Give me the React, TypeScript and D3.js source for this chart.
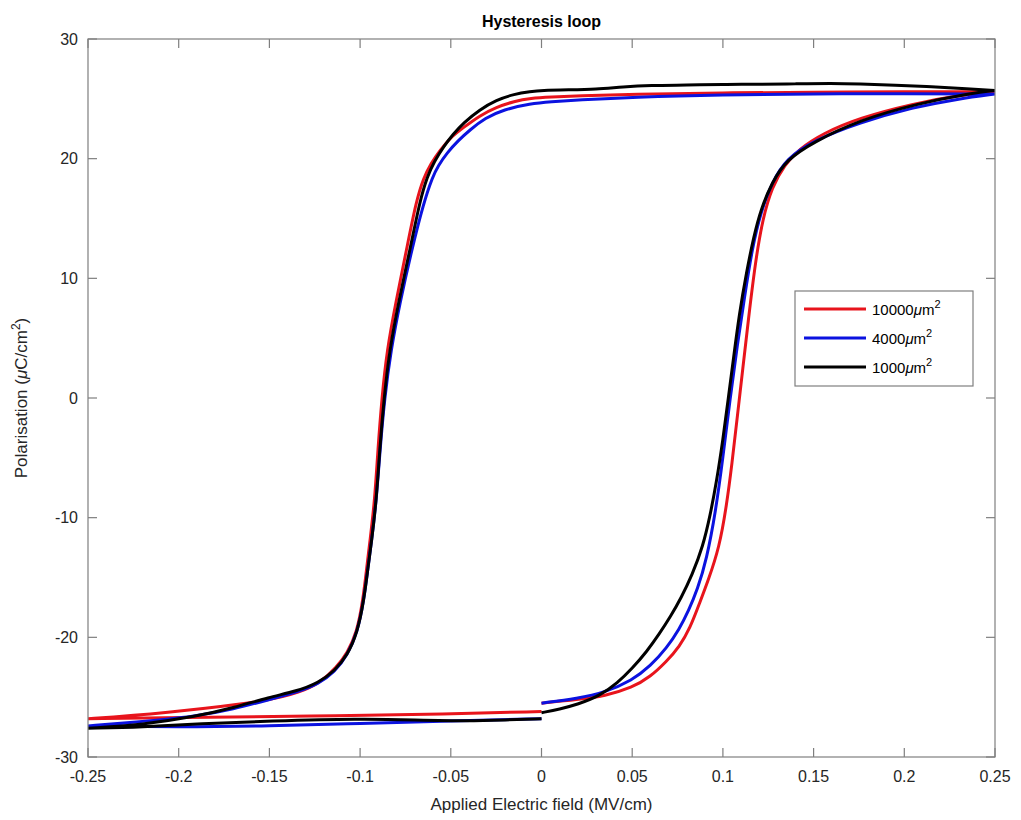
import * as d3 from "d3";

// Applied field (MV/cm) and polarisation (uC/cm^2) for each loop.
// Each loop starts at E=0 on the bottom, goes up the right branch, back along the top,
// down the left branch and along the bottom back to E=0.
const RED_E = [
  0.0, 0.02, 0.035, 0.05, 0.06, 0.069, 0.076, 0.082, 0.087, 0.092, 0.098, 0.102, 0.105, 0.108, 0.111,
  0.114, 0.118, 0.122, 0.127, 0.134, 0.142, 0.155, 0.175, 0.205, 0.23, 0.25,
  0.2, 0.15, 0.1, 0.05, 0.02, 0.005, -0.006, -0.015, -0.025, -0.034, -0.043, -0.05, -0.056, -0.061,
  -0.065, -0.069, -0.0744, -0.0803, -0.0852, -0.088, -0.0902, -0.0919, -0.0946, -0.0963, -0.0985,
  -0.1018, -0.107, -0.113, -0.122, -0.133, -0.151, -0.183, -0.229, -0.25,
  -0.2, -0.128, -0.05, 0.0,
];
const RED_P = [
  -25.5, -25.2, -24.9, -24.2, -23.3, -22.0, -20.8, -19.2, -17.2, -15.2, -12.5, -9.0, -5.5, -1.5, 2.5,
  6.5, 11.5, 15.0, 17.6, 19.5, 20.8, 22.1, 23.4, 24.6, 25.3, 25.6,
  25.6, 25.55, 25.5, 25.4, 25.25, 25.15, 25.05, 24.8, 24.3, 23.6, 22.6, 21.8, 20.7, 19.6,
  18.4, 16.5, 12.4, 8.0, 4.0, 0.0, -4.3, -8.5, -12.0, -14.1, -17.0,
  -19.6, -21.3, -22.5, -23.8, -24.6, -25.3, -25.9, -26.6, -26.8,
  -26.7, -26.6, -26.4, -26.2,
];

const BLUE_E = [
  0.0, 0.02, 0.035, 0.05, 0.06, 0.069, 0.076, 0.081, 0.086, 0.091, 0.096, 0.1, 0.104, 0.108, 0.112,
  0.116, 0.121, 0.127, 0.135, 0.15, 0.175, 0.205, 0.23, 0.25,
  0.2, 0.15, 0.1, 0.05, 0.02, 0.005, -0.006, -0.021, -0.031, -0.0395, -0.046, -0.052, -0.057, -0.06,
  -0.065, -0.0715, -0.078, -0.083, -0.0865, -0.089, -0.091, -0.0937, -0.0956, -0.098, -0.1015,
  -0.107, -0.114, -0.123, -0.135, -0.15, -0.17, -0.19, -0.225, -0.25,
  -0.2, -0.15, -0.1, -0.05, 0.0,
];
const BLUE_P = [
  -25.5, -25.1, -24.6, -23.6, -22.4, -20.9, -19.3, -17.8, -16.0, -13.5, -9.5, -5.0, 0.0, 4.5, 8.5,
  12.4, 15.6, 18.0, 20.0, 21.5, 23.0, 24.3, 25.0, 25.4,
  25.45, 25.4, 25.35, 25.15, 24.9, 24.75, 24.6, 24.1, 23.4, 22.4, 21.5, 20.5, 19.4, 18.5,
  16.3, 12.4, 8.0, 4.0, 0.0, -4.3, -8.5, -12.0, -14.1, -17.0, -19.6,
  -21.5, -22.9, -23.9, -24.6, -25.2, -26.0, -26.6, -27.1, -27.4,
  -27.5, -27.4, -27.2, -27.0, -26.8,
];

const BLACK_E = [
  0.0, 0.01, 0.02, 0.032, 0.042, 0.05, 0.058, 0.065, 0.071, 0.077, 0.083, 0.089, 0.093, 0.0965, 0.1,
  0.103, 0.106, 0.109, 0.113, 0.117, 0.121, 0.127, 0.135, 0.15, 0.175, 0.207, 0.238, 0.25,
  0.235, 0.215, 0.195, 0.175, 0.16, 0.14, 0.12, 0.1, 0.08, 0.06, 0.045, 0.03, 0.015, 0.0,
  -0.006, -0.015, -0.025, -0.034, -0.043, -0.049, -0.054, -0.059, -0.063, -0.067, -0.0725, -0.0788,
  -0.0838, -0.0868, -0.0892, -0.091, -0.0937, -0.0956, -0.098, -0.1015, -0.107, -0.114, -0.123,
  -0.135, -0.15, -0.17, -0.19, -0.22, -0.25,
  -0.22, -0.188, -0.15, -0.1, -0.07, -0.04, -0.02, 0.0,
];
const BLACK_P = [
  -26.3, -26.0, -25.6, -24.9, -23.8, -22.6, -21.2, -19.7, -18.3, -16.7, -14.8, -12.4, -9.8, -7.0, -3.5,
  0.0, 3.5, 7.0, 10.5, 13.5, 15.8, 18.0, 19.9, 21.4, 23.2, 24.6, 25.5, 25.7,
  25.85, 26.0, 26.15, 26.25, 26.3, 26.25, 26.2, 26.22, 26.15, 26.12, 26.0, 25.8, 25.75, 25.7,
  25.6, 25.4, 24.9, 24.1, 23.0, 22.0, 21.0, 19.8, 18.5, 16.5, 12.4, 8.0,
  4.0, 0.0, -4.3, -8.5, -12.0, -14.1, -17.0, -19.6, -21.5, -22.8, -23.8,
  -24.5, -25.0, -25.9, -26.6, -27.3, -27.6,
  -27.5, -27.2, -27.0, -26.8, -26.9, -27.0, -26.9, -26.8,
];

const SERIES_AREA = ["10000", "4000", "1000"];
const SERIES_COLOR = ["#e8141c", "#0b12e0", "#000000"];
const SERIES_E = [RED_E, BLUE_E, BLACK_E];
const SERIES_P = [RED_P, BLUE_P, BLACK_P];

const X_TICKS = [-0.25, -0.2, -0.15, -0.1, -0.05, 0, 0.05, 0.1, 0.15, 0.2, 0.25];
const Y_TICKS = [-30, -20, -10, 0, 10, 20, 30];

const W = 1021;
const H = 820;
const margin = { top: 39, right: 26, bottom: 63, left: 88 };
const FONT = "'Liberation Sans', Arial, Helvetica, sans-serif";
const AXIS = "#7f7f7f";
const TEXT = "#262626";

export default function App() {
  const innerW = W - margin.left - margin.right;
  const innerH = H - margin.top - margin.bottom;

  const x = d3.scaleLinear().domain([-0.25, 0.25]).range([0, innerW]);
  const y = d3.scaleLinear().domain([-30, 30]).range([innerH, 0]);

  // b-spline keeps the loops smooth; split at the field tips so the curve reaches +-0.25
  const line = d3
    .line<[number, number]>()
    .x((d) => x(d[0]))
    .y((d) => y(d[1]))
    .curve(d3.curveBasis);

  const loopPath = (es: number[], ps: number[]) => {
    const pts = es.map((e, j) => [e, ps[j]] as [number, number]);
    const iMax = d3.maxIndex(es);
    const iMin = d3.minIndex(es);
    const parts = [pts.slice(0, iMax + 1), pts.slice(iMax, iMin + 1), pts.slice(iMin)];
    return parts.map((p) => line(p) || "").join("");
  };

  const tickLen = 9;

  // legend layout
  const lg = { x: 707, y: 252, w: 178, h: 95, row: 29 };

  return (
    <div style={{ position: "absolute", left: 0, top: 0 }}>
      <svg width={W} height={H} style={{ display: "block", background: "#fff" }} fontFamily={FONT}>
        <text x={margin.left + innerW / 2} y={27} textAnchor="middle" fontSize={16} fontWeight="bold" fill="#000">
          Hysteresis loop
        </text>
        <g transform={`translate(${margin.left},${margin.top})`}>
          <defs>
            <clipPath id="plot-clip">
              <rect x={0} y={0} width={innerW} height={innerH} />
            </clipPath>
          </defs>

          {/* curves */}
          <g clipPath="url(#plot-clip)">
            {SERIES_E.map((es, i) => (
              <path
                key={SERIES_AREA[i]}
                d={loopPath(es, SERIES_P[i])}
                fill="none"
                stroke={SERIES_COLOR[i]}
                strokeWidth={3}
                strokeLinejoin="round"
                strokeLinecap="butt"
              />
            ))}
          </g>

          {/* box */}
          <rect x={0} y={0} width={innerW} height={innerH} fill="none" stroke={AXIS} strokeWidth={1.2} />

          {/* x ticks, bottom and top */}
          {X_TICKS.map((t) => (
            <g key={"x" + t}>
              <line x1={x(t)} x2={x(t)} y1={innerH} y2={innerH - tickLen} stroke={AXIS} strokeWidth={1.2} />
              <line x1={x(t)} x2={x(t)} y1={0} y2={tickLen} stroke={AXIS} strokeWidth={1.2} />
              <text x={x(t)} y={innerH + 25} textAnchor="middle" fontSize={16} fill={TEXT}>
                {String(+t.toFixed(2))}
              </text>
            </g>
          ))}

          {/* y ticks, left and right */}
          {Y_TICKS.map((t) => (
            <g key={"y" + t}>
              <line x1={0} x2={tickLen} y1={y(t)} y2={y(t)} stroke={AXIS} strokeWidth={1.2} />
              <line x1={innerW} x2={innerW - tickLen} y1={y(t)} y2={y(t)} stroke={AXIS} strokeWidth={1.2} />
              <text x={-10} y={y(t)} dy="0.35em" textAnchor="end" fontSize={16} fill={TEXT}>
                {t}
              </text>
            </g>
          ))}

          {/* axis labels */}
          <text x={innerW / 2} y={innerH + 53} textAnchor="middle" fontSize={17} fill={TEXT}>
            Applied Electric field (MV/cm)
          </text>
          <text
            transform={`translate(${-61},${innerH / 2}) rotate(-90)`}
            textAnchor="middle"
            fontSize={17}
            fill={TEXT}
          >
            Polarisation (<tspan fontStyle="italic">μ</tspan>C/cm
            <tspan dy={-7} fontSize={12}>2</tspan>
            <tspan dy={7}>)</tspan>
          </text>

          {/* legend */}
          <g transform={`translate(${lg.x},${lg.y})`}>
            <rect x={0} y={0} width={lg.w} height={lg.h} fill="#fff" stroke={AXIS} strokeWidth={1.2} />
            {SERIES_AREA.map((a, i) => {
              const cy = 18 + i * lg.row;
              return (
                <g key={"lg" + a}>
                  <line x1={9} x2={71} y1={cy} y2={cy} stroke={SERIES_COLOR[i]} strokeWidth={3} />
                  <text x={77} y={cy} dy="0.4em" fontSize={15} fill="#000">
                    {a}
                    <tspan fontStyle="italic">μ</tspan>m
                    <tspan dy={-7} fontSize={11}>2</tspan>
                  </text>
                </g>
              );
            })}
          </g>
        </g>
      </svg>
    </div>
  );
}
